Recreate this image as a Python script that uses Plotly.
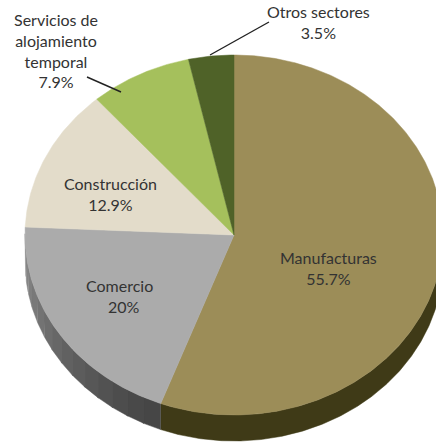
import numpy as np
import plotly.graph_objects as go

categories = ["Manufacturas", "Comercio", "Construcción", "Servicios de alojamiento temporal", "Otros sectores"]
values = [55.7, 20, 12.9, 7.9, 3.5]
value_labels = ["55.7%", "20%", "12.9%", "7.9%", "3.5%"]
colors = ["#9c8d58", "#ababab", "#e3dcca", "#a5c05c", "#4f6228"]

W, H = 436, 445
CX, CY, RX, RY, DEPTH = 234, 235, 209, 180, 26


def arc(a0, a1, n=None):
    n = n or max(int(abs(a1 - a0) * 2) + 2, 3)
    t = np.radians(np.linspace(a0, a1, n))
    return np.sin(t), np.cos(t)


fig = go.Figure()
d = DEPTH / RY
edges = np.concatenate([[0], np.cumsum(values)]) * 3.6


def side_band(a0, a1, color, name):
    x, y = arc(a0, a1)
    fig.add_trace(go.Scatter(
        x=np.concatenate([x, x[::-1]]), y=np.concatenate([y, y[::-1] - d]),
        mode="lines", fill="toself", fillcolor=color, line=dict(color=color, width=0.5),
        hoverinfo="skip", showlegend=False, name=name))


# Extruded side: only the part of each slice on the front of the pie is visible
side_a = 90.0
side_b = 270.0
side_band(side_a, edges[1], "#3f3a17", categories[0])
grey_start, grey_end = edges[1], side_b
steps = 14
dark, light = np.array([70, 70, 70]), np.array([140, 140, 140])
for i in range(steps):
    a0 = grey_start + (grey_end - grey_start) * i / steps
    a1 = grey_start + (grey_end - grey_start) * (i + 1) / steps
    c = dark + (light - dark) * (i / (steps - 1)) ** 1.2
    side_band(a0, a1 + 0.4, "rgb(%d,%d,%d)" % tuple(c), categories[1])

# Top faces
for i, cat in enumerate(categories):
    x, y = arc(edges[i], edges[i + 1])
    fig.add_trace(go.Scatter(
        x=np.concatenate([[0], x, [0]]), y=np.concatenate([[0], y, [0]]),
        mode="lines", fill="toself", fillcolor=colors[i], line=dict(color=colors[i], width=0.5),
        name=cat, text=f"{cat} {value_labels[i]}", hoverinfo="text", showlegend=False))


def px(x):
    return (x - CX) / RX


def py(y):
    return (CY - y) / RY


# Leader lines
for (x0, y0, x1, y1) in [(87, 77, 121, 92), (269, 22, 210, 55)]:
    fig.add_trace(go.Scatter(x=[px(x0), px(x1)], y=[py(y0), py(y1)], mode="lines",
                             line=dict(color="#222222", width=1.4), hoverinfo="skip", showlegend=False))

label_text = [
    f"{categories[0]}<br>{value_labels[0]}",
    f"{categories[1]}<br>&nbsp;&nbsp;{value_labels[1]}",
    f"{categories[2]}<br>{value_labels[2]}",
    f"Servicios de<br>alojamiento<br>temporal<br>{value_labels[3]}",
    f"{categories[4]}<br>{value_labels[4]}",
]
label_pos = [(328, 268), (119, 296), (110, 194), (56, 50), (318, 22)]
for t, (lx, ly) in zip(label_text, label_pos):
    fig.add_annotation(x=px(lx), y=py(ly), text=t, showarrow=False, xanchor="center", yanchor="middle",
                       font=dict(family="Lato", size=16, color="#333333"))

fig.update_layout(
    width=W, height=H, margin=dict(l=0, r=0, t=0, b=0),
    paper_bgcolor="white", plot_bgcolor="white", showlegend=False,
    xaxis=dict(range=[px(0), px(W)], visible=False, fixedrange=True),
    yaxis=dict(range=[py(H), py(0)], visible=False, fixedrange=True),
)
fig.write_html("out.html", config={"displayModeBar": False},
               post_script="document.body.style.margin='0';document.body.style.overflow='hidden';")
